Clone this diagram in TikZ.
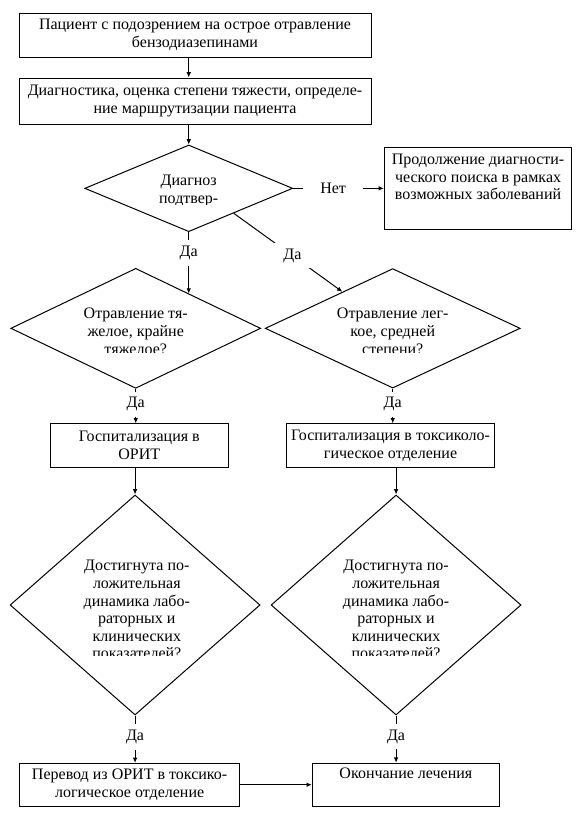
\documentclass[tikz,border=0pt]{standalone}
\usepackage{fontspec}
\setmainfont{Liberation Serif}
\usetikzlibrary{shapes.geometric,arrows.meta}

\begin{document}
\begin{tikzpicture}[x=0.75pt, y=-0.75pt, node distance=50pt,
  >={Latex[length=4pt,width=3.5pt]},
  every node/.style={font=\fontsize{12}{13.2}\selectfont},
  box/.style={draw, line width=0.75pt, align=center, inner sep=0pt},
  ask/.style={draw, diamond, line width=0.75pt, inner sep=0pt},
  asktext/.style={align=center, inner sep=0pt},
  lbl/.style={fill=white, inner xsep=12.9pt, inner ysep=4.3pt},
  conn/.style={line width=0.75pt}]
\useasboundingbox (0,0) rectangle (583,818);

\node[box, minimum width=264pt, minimum height=33pt] (start) at (195,35) {Пациент с подозрением на острое отравление\\бензодиазепинами};
\node[box, minimum width=264pt, minimum height=34.5pt, below of=start, node distance=49.5pt] (diag) {Диагностика, оценка степени тяжести, определе-\\ние маршрутизации пациента};
\node[ask, minimum width=156pt, minimum height=65pt, below of=diag, node distance=65.5pt, xshift=-4.7pt] (confirm) {};
\node[box, minimum width=140.5pt, minimum height=61.3pt, right of=confirm, node distance=217pt] (search) {Продолжение диагности-\\ческого поиска в рамках\\возможных заболеваний\\\strut};
\node[ask, minimum width=187.4pt, minimum height=90pt, below of=confirm, node distance=105pt, xshift=-39.75pt] (severe) {};
\node[ask, minimum width=191.25pt, minimum height=89.6pt, right of=severe, node distance=192.75pt] (mild) {};
\node[box, minimum width=133pt, minimum height=32.5pt, below of=severe, node distance=87.9pt, xshift=2.7pt] (icu) {Госпитализация в\\ОРИТ};
\node[box, minimum width=155.8pt, minimum height=32.5pt, right of=icu, node distance=188.4pt] (toxdep) {Госпитализация в токсиколо-\\гическое отделение};
\node[ask, minimum width=187.5pt, minimum height=165pt, below of=icu, node distance=119.6pt, xshift=-3.2pt] (better1) {};
\node[ask, minimum width=187.5pt, minimum height=165pt, right of=better1, node distance=195.75pt] (better2) {};
\node[box, minimum width=165.4pt, minimum height=32pt, below of=better1, node distance=134.8pt, xshift=-4.1pt] (transfer) {Перевод из ОРИТ в токсико-\\логическое отделение};
\node[box, minimum width=140.3pt, minimum height=32.3pt, right of=transfer, node distance=207.2pt] (finish) {Окончание лечения\\\strut};

% text inside the diamonds, cut off at the bottom
\begin{scope}
\clip (confirm.center) ++(-80,-40) rectangle ++(160,55.7);
\node[asktext, yshift=-2pt] (confirmtext) at (confirm) {Диагноз\\подтвер-};
\end{scope}
\begin{scope}
\clip (severe.center) ++(-90,-50) rectangle ++(180,73.7);
\node[asktext, yshift=-2.3pt] (severetext) at (severe) {Отравление тя-\\желое, крайне\\тяжелое?};
\end{scope}
\begin{scope}
\clip (mild.center) ++(-90,-50) rectangle ++(180,73.7);
\node[asktext, yshift=-2.3pt] (mildtext) at (mild) {Отравление лег-\\кое, средней\\степени?};
\end{scope}
\begin{scope}
\clip (better1.center) ++(-90,-80) rectangle ++(180,130.5);
\node[asktext, xshift=1.3pt, yshift=-3.5pt] (better1text) at (better1) {Достигнута по-\\ложительная\\динамика лабо-\\раторных и\\клинических\\показателей?};
\end{scope}
\begin{scope}
\clip (better2.center) ++(-90,-80) rectangle ++(180,130.5);
\node[asktext, yshift=-3.5pt] (better2text) at (better2) {Достигнута по-\\ложительная\\динамика лабо-\\раторных и\\клинических\\показателей?};
\end{scope}

\draw[->, conn] (start.south -| confirm.north) -- (diag.north -| confirm.north);
\draw[->, conn] (diag.south -| confirm.north) -- (confirm.north);
\draw[->, conn] (confirm.east) -- node[lbl, pos=0.44] {Нет} (search.west);
\draw[->, conn] (confirm.south) -- node[lbl, pos=0.34] {Да} (confirm.south |- severe.33);
\draw[->, conn] (confirm.-29) -- node[lbl, pos=0.54] {Да} (mild.144);
\draw[->, conn] (severe.south) -- node[lbl, pos=0.45] {Да} (severe.south |- icu.north);
\draw[->, conn] (mild.south) -- node[lbl, pos=0.45] {Да} (mild.south |- toxdep.north);
\draw[->, conn] (icu.south -| better1.north) -- (better1.north);
\draw[->, conn] (toxdep.south -| better2.north) -- (better2.north);
\draw[->, conn] (better1.south) -- node[lbl, pos=0.45] {Да} (better1.south |- transfer.north);
\draw[->, conn] (better2.south) -- node[lbl, pos=0.45] {Да} (better2.south |- finish.north);
\draw[->, conn] (transfer.east) -- (finish.west);
\end{tikzpicture}
\end{document}
